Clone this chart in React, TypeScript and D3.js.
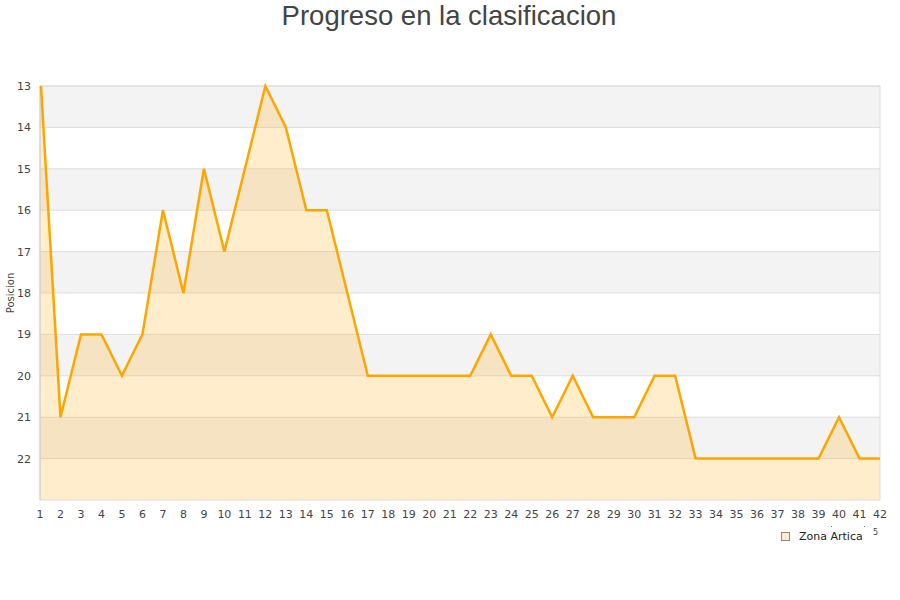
import React from "react";
import * as d3 from "d3";

const jornadas = d3.range(1, 43);
const posiciones = [13, 21, 19, 19, 20, 19, 16, 18, 15, 17, 15, 13, 14, 16, 16, 18, 20, 20, 20, 20, 20, 20, 19, 20, 20, 21, 20, 21, 21, 21, 20, 20, 22, 22, 22, 22, 22, 22, 22, 21, 22, 22];
const yTicks = [13, 14, 15, 16, 17, 18, 19, 20, 21, 22];
const bandStarts = [13, 15, 17, 19, 21];
const seriesName = "Zona Artica";
const title = "Progreso en la clasificacion";
const yLabel = "Posicion";

export default function App() {
  const W = 900, H = 600;
  const left = 40, right = 880, top = 86, bottom = 500;
  const x = d3.scaleLinear().domain([1, 42]).range([left, right]);
  const y = d3.scaleLinear().domain([13, 23]).range([top, bottom]);
  const data = jornadas.map((j, i) => ({ j, p: posiciones[i] }));
  const line = d3.line<{ j: number; p: number }>().x(d => x(d.j) + (d.j === 1 ? 1 : 0)).y(d => y(d.p));
  const area = d3.area<{ j: number; p: number }>().x(d => x(d.j)).y0(y(23)).y1(d => y(d.p));
  const axisFont = "'DejaVu Sans', sans-serif";
  return (
    <svg width={W} height={H} style={{ position: "absolute", left: 0, top: 0, background: "#fff" }}>
      <text x={449} y={25} textAnchor="middle" fontFamily="'Liberation Sans', Arial, sans-serif" fontSize={27.5} fill="#444">{title}</text>
      {bandStarts.map(b => (
        <rect key={b} x={left} y={y(b)} width={right - left} height={y(b + 1) - y(b)} fill="#f3f3f3" />
      ))}
      {yTicks.map(t => (
        <line key={t} x1={left} x2={right} y1={y(t)} y2={y(t)} stroke="#ddd" strokeWidth={1} />
      ))}
      <path d={area(data) || ""} fill="rgba(255,165,0,0.2)" />
      <rect x={left} y={top} width={right - left} height={bottom - top} fill="none" stroke="#ddd" strokeWidth={1} />
      <line x1={left} x2={left} y1={top} y2={bottom} stroke="#ccc" strokeWidth={1} />
      <path d={line(data) || ""} fill="none" stroke="#ffa500" strokeWidth={2.5} strokeLinejoin="miter" />
      {yTicks.map(t => (
        <text key={t} x={31} y={y(t) + 4} textAnchor="end" fontFamily={axisFont} fontSize={11} fill="#444">{t}</text>
      ))}
      {jornadas.map(j => (
        <text key={j} x={x(j)} y={518} textAnchor="middle" fontFamily={axisFont} fontSize={11} fill="#444">{j}</text>
      ))}
      <text transform={`translate(14,${293}) rotate(-90)`} textAnchor="middle" fontFamily={axisFont} fontSize={10} fill="#444">{yLabel}</text>
      <rect x={781.5} y={532.5} width={8} height={8} fill="rgba(255,165,0,0.2)" stroke="#888" strokeWidth={1} />
      <text x={799} y={540} fontFamily={axisFont} fontSize={11} fill="#222">{seriesName}</text>
      <text x={873} y={535} fontFamily={axisFont} fontSize={8} fill="#444">5</text>
      <rect x={831} y={526} width={1} height={1} fill="#666" />
      <rect x={864} y={526} width={1} height={1} fill="#666" />
    </svg>
  );
}
